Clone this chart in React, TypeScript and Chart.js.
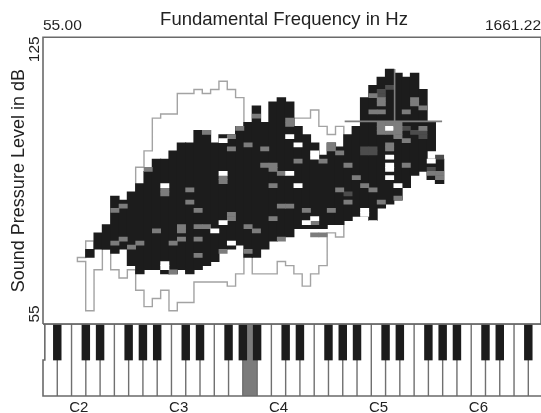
import React, { useEffect, useRef } from "react";
import { Chart, registerables } from "chart.js";

Chart.register(...registerables);

const titleText = "Fundamental Frequency in Hz";
const yTitleText = "Sound Pressure Level in dB";
const freqLabels = ["55.00", "1661.22"];
const dbTickValues = [57.2, 121.8];
const dbTickLabels = ["55", "125"];
const octaveLabels = ["C2", "C3", "C4", "C5", "C6"];
const octaveCenters = [4.16, 16.16, 28.16, 40.16, 52.16];

const xMin = -0.13;
const xMax = 59.68;
const dbMin = 54.75;
const dbMax = 124.75;
const frameTop = 124.75;
const frameBottom = 54.75;

const firstCol = 5;
const blackLow = [71,73,73,72,73,69,67,68,68,67,67,68,67,68,69,70,73,73,74,71,71,73,75,76,76,78,78,78,78,79,79,80,81,81,80,83,84,85,88,91,92,97,89];
const blackHigh = [73,77,79,86,85,87,89,92,95,95,97,99,99,102,102,99,101,101,103,104,108,104,109,110,109,103,101,99,96,99,98,101,103,110,113,115,117,116,115,116,112,104,95];
const detachedCells = [[46, 90, 95]];

const whiteCells = [
  [21,99],[21,91],[14,88],[21,79],[20,77],[22,74],[14,69],[14,68],[29,100],[29,91],
  [30,98],[32,96],[32,95],[30,88],[31,79],[32,80],[38,82],[38,81],[41,95],[41,93],[41,92],
  [41,90],[42,88],[41,102],[46,94],[39,79],
];
const grayCells = [
  [26,93],[27,93],[27,92],[28,91],[22,97],[24,98],[26,97],[23,102],[22,100],[21,90],[21,89],
  [14,87],[14,86],[17,87],[17,84],[9,83],[8,82],[18,82],[22,81],[22,80],[27,88],[28,83],[29,83],
  [27,80],[24,78],[25,77],[16,78],[16,77],[13,77],[18,78],[19,78],[9,75],[8,74],[11,74],[10,73],
  [16,75],[15,74],[18,75],[18,71],[28,75],[21,72],[24,72],[15,67],[25,105],[12,92],[19,101],[29,103],
  [29,104],[30,94],[33,94],[34,97],[34,98],[35,96],[36,93],[37,90],[38,88],[35,87],[39,87],[36,84],
  [40,84],[34,82],[31,82],[32,79],[32,76],[42,85],[43,93],[43,99],[43,106],[44,108],[44,109],[45,107],
  [45,102],[40,108],[40,109],[40,106],[39,106],[41,97],[41,98],[40,103],[41,103],[40,102],[41,102],
  [40,101],[41,101],[47,90],[47,91],[46,91],[39,110],[33,76],
];
const darkCells = [
  [36,86],[40,110],[40,111],[41,112],[45,101],[45,100],[44,101],[43,102],[38,96],[38,97],[39,96],[39,97],[47,95],[46,92],
];

const upperOutline = [
  [11,80],[11,89],[11,93],[12,93],[12,97],[13,97],[13,105],[14,105],[14,106],[16,106],[16,111],[18,111],[18,112],
  [19,112],[19,111],[20,111],[20,112],[21,112],[21,114],[22,114],[22,112],[23,112],[23,110],[24,110],[24,100],
  [30,100],[30,105],[32,105],[32,107],[33,107],[33,103],[34,103],[34,101],[35,101],[35,103],[36,103],[36,95],
];
const lowerOutline = [
  [6,73],[6,75],[5,75],[5,71],[4,71],[4,70],[5,70],[5,58],[6,58],[6,68],[7,68],[7,73],[8,73],[8,68],[9,68],[9,66],
  [10,66],[10,68],[11,68],[11,63],[12,63],[12,59],[13,59],[13,61],[14,61],[14,63],[15,63],[15,58],[16,58],[16,60],
  [18,60],[18,65],[22,65],[22,64],[23,64],[23,67],[24,67],[24,72],[25,72],[25,67],[28,67],[28,70],[29,70],[29,69],
  [30,69],[30,67],[31,67],[31,64],[32,64],[32,67],[33,67],[33,69],[34,69],[34,77],[35,77],[35,76],[36,76],[36,80],
];

const crossHorizontal = [[36.1,104.2],[47.8,104.2]];
const crossVertical = [[42.1,117],[42.1,100]];
const crossBlock = [[42,103],[42,102],[42,101],[42,100]];

const keyStep = 12 / 7;
const whiteKeyCount = 36;
const blackPattern = [0, 2, 3, 5, 6];
const highlightedKey = 14;
const kbBlackBottom = 0.5;

const cellsOf = (list: number[][]) => list.map(([x, y]) => ({ x: x + 0.5, y: [y, y + 1] }));

export default function App() {
  const ref = useRef<HTMLCanvasElement>(null);
  useEffect(() => {
    const boundaries: number[] = [];
    for (let n = 0; n <= whiteKeyCount; n++) boundaries.push(xMin + n * keyStep);
    const visible = boundaries.filter((b) => b <= xMax);
    const separators: any[] = [];
    visible.forEach((b, n) => {
      if (n === 0) return;
      separators.push({ x: b, y: 0 }, { x: b, y: 1 }, { x: NaN, y: NaN });
    });
    const blackKeys = visible
      .map((b, n) => ({ b, n }))
      .filter(({ n }) => n > 0 && blackPattern.includes((n - 1) % 7))
      .map(({ b }) => ({ x: b, y: [kbBlackBottom, 1] }));
    const keyOutline = [
      { x: xMin + 0.22, y: 1 }, { x: xMin + 0.22, y: kbBlackBottom }, { x: xMin, y: kbBlackBottom },
      { x: xMin, y: 0 }, { x: xMax, y: 0 },
    ];
    const keyTop = [{ x: xMin, y: 1 }, { x: xMax, y: 1 }];
    const highlight = [{ x: boundaries[highlightedKey] + keyStep / 2, y: [0, 1] }];

    const line = (data: any[], color: string, width: number, order: number, yAxisID = "y") => ({
      type: "line" as const, data, borderColor: color, borderWidth: width, pointRadius: 0,
      tension: 0, order, yAxisID, xAxisID: "x", clip: false, spanGaps: false, fill: false,
    });
    const bars = (data: any[], color: string, thickness: number, order: number, yAxisID = "y") => ({
      type: "bar" as const, data, backgroundColor: color, barThickness: thickness, order, yAxisID,
      xAxisID: "x", grouped: false, borderWidth: 0,
    });
    const pts = (list: number[][]) => list.map(([x, y]) => ({ x, y }));
    const outlineColor = "#a3a3a3";

    const chart = new Chart(ref.current!, {
      type: "bar",
      data: {
        datasets: [
          line(pts(upperOutline), outlineColor, 1.4, 9),
          line(pts(lowerOutline), outlineColor, 1.4, 9),
          bars(blackLow.map((lo, i) => ({ x: firstCol + i + 0.5, y: [lo, blackHigh[i]] })), "#1c1c1c", 8.8, 8),
          bars(detachedCells.map(([c, a, b]) => ({ x: c + 0.5, y: [a, b] })), "#1c1c1c", 8.8, 8),
          bars(cellsOf(darkCells), "#4c4c4c", 8.3, 7),
          bars(cellsOf(grayCells), "#7c7c7c", 8.3, 6),
          bars(cellsOf(whiteCells), "#ffffff", 8.3, 5),
          line(pts(crossHorizontal), "#7e7e7e", 1.6, 4),
          line(pts(crossVertical), "#7e7e7e", 1.6, 4),
          bars(cellsOf(crossBlock), "#7e7e7e", 8.3, 4),
          line([{ x: xMin, y: frameBottom }, { x: xMin, y: frameTop }, { x: xMax, y: frameTop }, { x: xMax, y: frameBottom }, { x: xMin, y: frameBottom }], "#6a6a6a", 1.6, 1),
          bars(highlight, "#7b7b7b", 14.2, 5, "k"),
          line(separators, "#707070", 1.4, 4, "k"),
          bars(blackKeys, "#1c1c1c", 7.8, 3, "k"),
          line(keyOutline, "#6a6a6a", 1.6, 2, "k"),
          line(keyTop, "#6a6a6a", 1.2, 2, "k"),
        ] as any,
      },
      options: {
        animation: false,
        responsive: false,
        layout: { padding: 0 },
        plugins: {
          legend: { display: false },
          tooltip: { enabled: false },
          title: {
            display: true,
            text: titleText,
            color: "#222",
            font: { family: "Liberation Sans", size: 18.5, weight: "normal" },
            padding: { top: 9, bottom: -11 },
          },
        },
        scales: {
          x: {
            type: "linear",
            position: "bottom",
            min: xMin,
            max: xMax,
            offset: false,
            grid: { display: false, drawTicks: false },
            border: { display: false },
            afterBuildTicks: (s: any) => { s.ticks = octaveCenters.map((value) => ({ value })); },
            afterFit: (s: any) => { s.height = 17; s.paddingLeft = 0; s.paddingRight = 0; },
            ticks: {
              autoSkip: false, maxRotation: 0, padding: 3, color: "#222",
              font: { family: "Liberation Sans", size: 15 },
              callback: (_v: any, i: number) => octaveLabels[i],
            },
          },
          x2: {
            type: "linear",
            position: "top",
            min: xMin,
            max: xMax,
            offset: false,
            grid: { display: false, drawTicks: false },
            border: { display: false },
            afterBuildTicks: (s: any) => { s.ticks = [{ value: xMin }, { value: xMax }]; },
            afterFit: (s: any) => { s.height = 17; s.paddingLeft = 0; s.paddingRight = 0; },
            ticks: {
              autoSkip: false, maxRotation: 0, padding: 2, align: "inner", color: "#222",
              font: { family: "Liberation Sans", size: 15.5 },
              callback: (_v: any, i: number) => freqLabels[i],
            },
          },
          k: {
            type: "linear",
            position: "left",
            stack: "main",
            stackWeight: 72,
            min: 0,
            max: 1,
            grid: { display: false, drawTicks: false },
            border: { display: false },
            afterFit: (s: any) => { s.width = 43; },
            ticks: { display: false },
          },
          y: {
            type: "linear",
            position: "left",
            stack: "main",
            stackWeight: 287,
            min: dbMin,
            max: dbMax,
            grid: { display: false, drawTicks: false },
            border: { display: false },
            afterBuildTicks: (s: any) => { s.ticks = dbTickValues.map((value) => ({ value })); },
            afterFit: (s: any) => { s.width = 43; },
            title: {
              display: true,
              text: yTitleText,
              color: "#222",
              font: { family: "Liberation Sans", size: 18 },
              padding: { top: 8, bottom: 0 },
            },
            ticks: {
              autoSkip: false, minRotation: 90, maxRotation: 90, crossAlign: "center", padding: -5, color: "#222",
              font: { family: "Liberation Sans", size: 15.5 },
              callback: (_v: any, i: number) => dbTickLabels[i],
            },
          },
        },
      } as any,
      plugins: [
        {
          id: "titleNudge",
          afterLayout: (c: any) => { c.titleBlock.left = 27; },
        },
      ],
    });
    return () => chart.destroy();
  }, []);
  return (
    <div style={{ position: "fixed", left: 0, top: 0, width: 541, height: 413, background: "#fff" }}>
      <canvas ref={ref} width={541} height={413} style={{ display: "block" }} />
    </div>
  );
}
